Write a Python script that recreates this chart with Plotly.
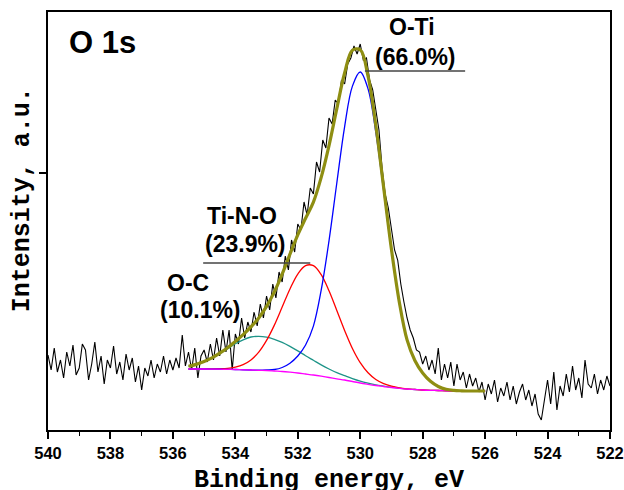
import numpy as np
import plotly.graph_objects as go

# ---------------- data ----------------
# raw spectrum, binding energy 540.0 -> 522.0 eV in 0.1 eV steps (intensity, a.u.)
raw_be = np.round(np.linspace(540.0, 522.0, 181), 2)
raw_int = [
    75, 60, 82, 58, 70, 52, 78, 64, 85, 55,
    62, 86, 80, 50, 66, 88, 58, 74, 46, 70,
    62, 84, 56, 68, 50, 76, 60, 72, 48, 64,
    40, 62, 54, 70, 52, 66, 58, 74, 56, 70,
    60,
    72, 62, 95, 64, 78, 60, 82, 52, 74, 80,
    68, 86, 70, 92, 74, 100, 78, 100, 60, 96,
    86, 112, 92, 108, 98, 118, 104, 126, 112, 134,
    120, 146, 132, 158, 148, 174, 160, 190, 178, 206,
    200, 228, 215, 242, 236, 268, 258, 290, 282, 312,
    306, 330, 326, 350, 346, 366, 372, 384, 376, 386,
    370, 372, 350, 340, 318, 300, 262, 236, 222, 200,
    180, 170, 146, 128, 112, 100, 92, 80, 78, 66,
    74, 60, 70, 56, 82, 50, 66, 52, 68, 44,
    66, 50, 58, 42, 56, 44, 52, 38, 48, 30,
    46, 36, 50, 28, 42, 34, 48, 30, 44, 26,
    38, 46, 30, 40, 24, 36, 16, 10, 30, 50,
    26, 58, 20, 44, 34, 56, 38, 64, 40, 52,
    32, 70, 46, 42, 56, 36, 50, 40, 54, 44,
]

# fit grid 535.5 -> 526.0 eV, 0.25 eV steps
fit_be = np.round(np.linspace(535.5, 526.0, 39), 2)
background = [61, 61, 61, 60.9, 60.8, 60.6, 60.5, 60.2, 60.0, 59.7,
              59.5, 59.0, 58.5, 57.8, 57.0, 56.0, 55.0, 53.8, 52.5, 51.2,
              50.0, 48.5, 47.0, 45.7, 44.5, 43.5, 42.5, 41.7, 41.0, 40.5,
              40.0, 39.7, 39.5, 39.2, 39.0, 39, 39, 39, 39]
peak_OC = [2.7, 4.6, 7.4, 11.0, 15.6, 20.6, 25.7, 30.0, 33.0, 34.0,
           33.4, 31.7, 29.1, 25.8, 22.1, 18.3, 14.7, 11.3, 8.5, 6.1,
           4.3, 2.9, 1.9, 1.2, 0.7, 0.4, 0.24, 0.13, 0, 0,
           0, 0, 0, 0, 0, 0, 0, 0, 0]
peak_TiNO = [0, 0.02, 0.05, 0.16, 0.43, 1.06, 2.45, 5.2, 10.1, 18.2,
             30.1, 45.9, 64.4, 83.2, 99.0, 108.4, 109.3, 101.5, 86.7, 68.3,
             49.5, 33.0, 20.3, 11.5, 6.0, 2.9, 1.3, 0.5, 0.2, 0.07,
             0, 0, 0, 0, 0, 0, 0, 0, 0]
peak_OTi = [0, 0, 0, 0, 0, 0, 0, 0, 0, 0.2,
            0.6, 1.5, 4, 9, 17, 29, 48.9, 86, 136.7, 195.8,
            253.2, 295.4, 311, 295.4, 253.2, 195.8, 136.7, 86, 48.9, 29,
            17, 9, 4, 1.5, 0.6, 0.2, 0, 0, 0]

x_ticks = [540, 538, 536, 534, 532, 530, 528, 526, 524, 522]
y_ticks = [257]

labels = ["O-Ti", "(66.0%)", "Ti-N-O", "(23.9%)", "O-C", "(10.1%)"]

bg = np.array(background)
c_oc = bg + np.array(peak_OC)
c_tino = bg + np.array(peak_TiNO)
c_oti = bg + np.array(peak_OTi)
envelope = bg + np.array(peak_OC) + np.array(peak_TiNO) + np.array(peak_OTi)

fig = go.Figure()
fig.add_trace(go.Scatter(x=raw_be, y=raw_int, mode="lines",
                         line=dict(color="black", width=1.1)))
fig.add_trace(go.Scatter(x=fit_be, y=c_oc, mode="lines", line_shape="spline",
                         line=dict(color="#1E9488", width=1.3)))
fig.add_trace(go.Scatter(x=fit_be, y=c_tino, mode="lines", line_shape="spline",
                         line=dict(color="#FF0000", width=1.3)))
fig.add_trace(go.Scatter(x=fit_be, y=c_oti, mode="lines", line_shape="spline",
                         line=dict(color="#0000FF", width=1.3)))
fig.add_trace(go.Scatter(x=fit_be, y=bg, mode="lines", line_shape="spline",
                         line=dict(color="#FF00FF", width=1.3)))
fig.add_trace(go.Scatter(x=fit_be, y=envelope, mode="lines", line_shape="spline",
                         line=dict(color="#8E8E12", width=3.2)))

lab_font = dict(family="Arial, Liberation Sans", size=23, color="black", weight="bold")
ann = [
    dict(x=539.39, y=388, text="O 1s", xanchor="left", yanchor="middle",
         font=dict(family="Arial, Liberation Sans", size=31, color="black", weight="bold")),
    dict(x=528.34, y=403, text=labels[0]),
    dict(x=528.24, y=373, text=labels[1]),
    dict(x=533.79, y=214, text=labels[2]),
    dict(x=533.66, y=186, text=labels[3]),
    dict(x=535.52, y=147, text=labels[4]),
    dict(x=535.13, y=120, text=labels[5]),
]
for a in ann:
    a.setdefault("font", lab_font)
    a.setdefault("xanchor", "center")
    a.setdefault("yanchor", "middle")
    a.update(xref="x", yref="y", showarrow=False)

mono = dict(family="Courier New, Liberation Mono, monospace", size=25, color="black", weight="bold")
ann.append(dict(xref="paper", yref="paper", x=-0.046, y=0.55, text="Intensity, a.u.",
                textangle=-90, showarrow=False, font=mono, xanchor="center", yanchor="middle"))
ann.append(dict(xref="paper", yref="paper", x=0.5, y=-0.121, text="Binding energy, eV",
                showarrow=False, font=mono, xanchor="center", yanchor="middle"))

shapes = [
    dict(type="line", xref="x", yref="y", x0=529.85, x1=526.64, y0=359, y1=359,
         line=dict(color="#444", width=1.3)),
    dict(type="line", xref="x", yref="y", x0=535.03, x1=531.6, y0=167, y1=167,
         line=dict(color="#444", width=1.3)),
]

fig.update_layout(
    width=624, height=490,
    margin=dict(l=48, r=14, t=12, b=60, autoexpand=False),
    paper_bgcolor="white", plot_bgcolor="white",
    showlegend=False,
    annotations=ann, shapes=shapes,
    xaxis=dict(range=[540, 522], tickvals=x_ticks, ticks="outside", ticklen=7,
               tickwidth=1.5, tickcolor="black", automargin=False,
               minor=dict(dtick=1, ticks="outside", ticklen=4, tickwidth=1.2, tickcolor="black"),
               showline=True, linecolor="black", linewidth=1.6, mirror=True,
               showgrid=False, zeroline=False,
               tickfont=dict(family="Arial, Liberation Sans", size=16.5, color="black", weight="bold")),
    yaxis=dict(range=[0, 418], tickvals=y_ticks, showticklabels=False, ticks="outside",
               ticklen=7, tickwidth=1.5, tickcolor="black", automargin=False,
               showline=True, linecolor="black", linewidth=1.6, mirror=True,
               showgrid=False, zeroline=False),
)

fig.write_html("out.html")
